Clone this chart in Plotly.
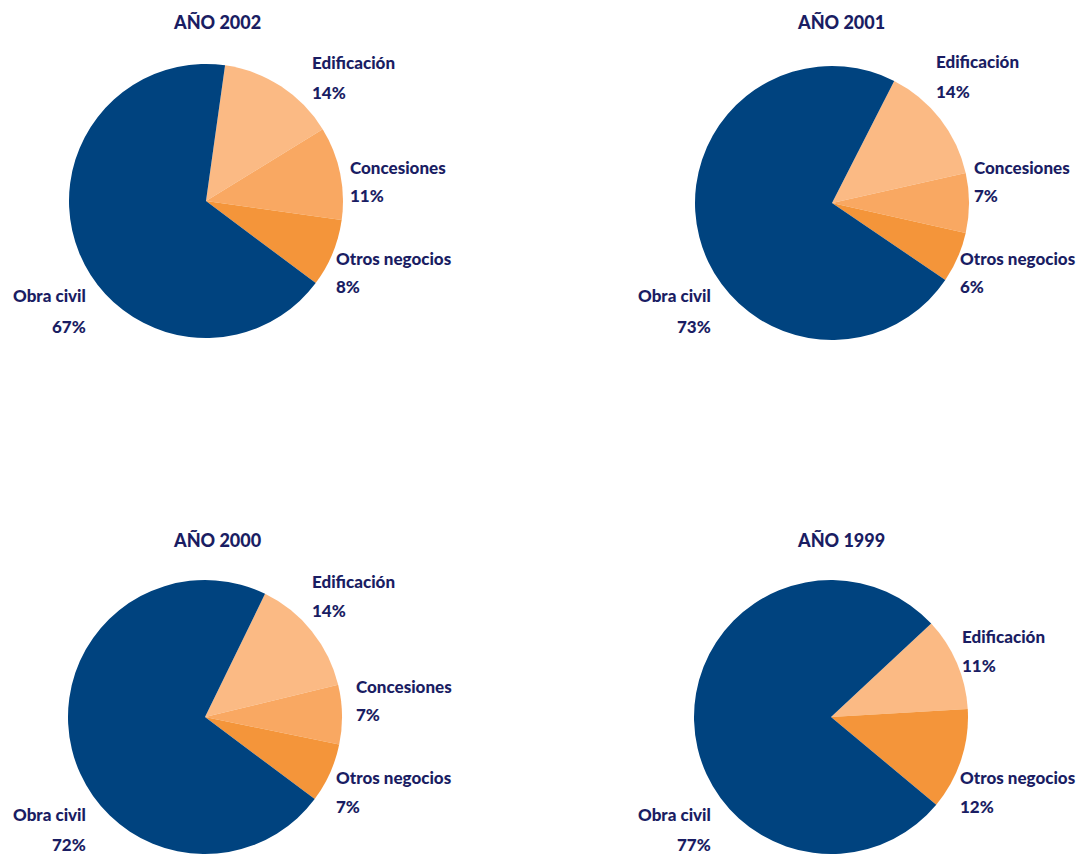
import plotly.graph_objects as go

W, H = 1089, 857

categories = ["Edificación", "Concesiones", "Otros negocios", "Obra civil"]
years = ["AÑO 2002", "AÑO 2001", "AÑO 2000", "AÑO 1999"]
values_2002 = [14, 11, 8, 67]
values_2001 = [14, 7, 6, 73]
values_2000 = [14, 7, 7, 72]
values_1999 = [11, 0, 12, 77]

colors = ["#FBBA84", "#F9A862", "#F4953A", "#00437F"]
text_color = "#1A1D63"
FONT = "Lato"

# layout: pie centre (px), radius, rotation, label positions (px)
pies = [
    dict(vals=values_2002, title=years[0], cx=206, cy=201, r=137, rot=8, tx=217, ty=22,
         lab={"Edificación": (310, 63, 92, "left"), "Concesiones": (348, 167, 195, "left"),
              "Otros negocios": (334, 258, 287, "left"), "Obra civil": (88, 296, 326, "right")}),
    dict(vals=values_2001, title=years[1], cx=832, cy=203, r=137, rot=27, tx=841, ty=22,
         lab={"Edificación": (934, 62, 91, "left"), "Concesiones": (972, 167, 196, "left"),
              "Otros negocios": (958, 258, 287, "left"), "Obra civil": (713, 296, 326, "right")}),
    dict(vals=values_2000, title=years[2], cx=205, cy=717, r=137, rot=26, tx=217, ty=540,
         lab={"Edificación": (310, 581, 610, "left"), "Concesiones": (354, 686, 714, "left"),
              "Otros negocios": (334, 777, 806, "left"), "Obra civil": (88, 814, 844, "right")}),
    dict(vals=values_1999, title=years[3], cx=831, cy=717, r=137, rot=47, tx=841, ty=540,
         lab={"Edificación": (960, 636, 665, "left"),
              "Otros negocios": (958, 777, 806, "left"), "Obra civil": (713, 814, 844, "right")}),
]

fig = go.Figure()
annotations = []


def px(x):
    return x / W


def py(y):
    return 1 - y / H


for p in pies:
    cats = [c for c, v in zip(categories, p["vals"]) if v > 0]
    vals = [v for v in p["vals"] if v > 0]
    cols = [col for col, v in zip(colors, p["vals"]) if v > 0]
    fig.add_trace(go.Pie(
        labels=cats, values=vals, sort=False, direction="clockwise", rotation=p["rot"],
        marker=dict(colors=cols, line=dict(width=0)),
        textinfo="none", hoverinfo="label+percent", showlegend=False,
        domain=dict(x=[px(p["cx"] - p["r"]), px(p["cx"] + p["r"])],
                    y=[py(p["cy"] + p["r"]), py(p["cy"] - p["r"])]),
    ))
    annotations.append(dict(text=p["title"], x=px(p["tx"]), y=py(p["ty"]), xref="paper", yref="paper",
                            xanchor="center", yanchor="middle", showarrow=False,
                            font=dict(family=FONT, size=18, color=text_color, weight=900)))
    for c, v in zip(categories, p["vals"]):
        if v <= 0:
            continue
        x, y1, y2, al = p["lab"][c]
        for txt, yy in ((c, y1), (f"{v}%", y2)):
            annotations.append(dict(text=txt, x=px(x), y=py(yy), xref="paper", yref="paper",
                                    xanchor=al, yanchor="middle", showarrow=False,
                                    font=dict(family=FONT, size=17, color=text_color, weight=900)))

fig.update_layout(
    width=W, height=H, margin=dict(l=0, r=0, t=0, b=0),
    paper_bgcolor="white", plot_bgcolor="white",
    annotations=annotations,
)

fig.write_html("out.html")
